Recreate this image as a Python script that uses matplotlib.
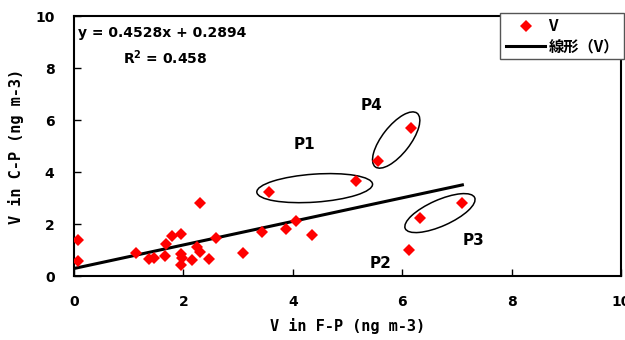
import matplotlib
matplotlib.use("Agg")
import matplotlib.pyplot as plt
from matplotlib.patches import Ellipse
from matplotlib.transforms import ScaledTranslation
import numpy as np

plt.rcParams['font.family'] = ['DejaVu Sans', 'Noto Sans CJK JP']
plt.rcParams['font.weight'] = 'bold'

# V concentrations: fine particles (x) vs coarse particles (y)
v_fp = [0.07, 0.07, 1.13, 1.38, 1.46, 1.66, 1.69, 1.79, 1.96, 1.95, 1.98, 1.96,
        2.15, 2.24, 2.30, 2.30, 2.46, 2.60, 3.09, 3.44, 3.57, 3.88, 4.05, 4.36,
        5.16, 5.55, 6.13, 6.16, 6.33, 7.10]
v_cp = [1.38, 0.58, 0.90, 0.65, 0.70, 0.76, 1.23, 1.55, 1.60, 0.86, 0.68, 0.44,
        0.62, 1.10, 0.91, 2.80, 0.65, 1.47, 0.87, 1.70, 3.22, 1.82, 2.12, 1.58,
        3.65, 4.42, 1.00, 5.70, 2.22, 2.81]

# linear trend from the spreadsheet
slope, intercept = 0.4528, 0.2894
fit_x = [0.0, 7.1]

# group labels and the ellipses drawn around them
group_names = ['P1', 'P2', 'P3', 'P4']
group_label_x = [4.22, 5.61, 7.31, 5.43]
group_label_y = [5.04, 0.50, 1.38, 6.54]
ell_cx = [4.40, 6.69, 5.89]
ell_cy = [3.38, 2.42, 5.23]
ell_w = [1.16, 0.76, 0.68]   # inches
ell_h = [0.28, 0.26, 0.28]
ell_ang = [4, 24, 52]

fig = plt.figure(figsize=(6.25, 3.4), dpi=100)
ax = fig.add_axes([0.1184, 0.1882, 0.8752, 0.7647])

ax.plot(v_fp, v_cp, 'D', color='red', markersize=6, markeredgewidth=0,
        label='V', zorder=3)
fx = np.array(fit_x)
ax.plot(fx, slope * fx + intercept, color='black', lw=2.2, label='線形（V）',
        zorder=2)

for cx, cy, w, h, a in zip(ell_cx, ell_cy, ell_w, ell_h, ell_ang):
    tr = fig.dpi_scale_trans + ScaledTranslation(cx, cy, ax.transData)
    ax.add_patch(Ellipse((0, 0), w, h, angle=a, transform=tr, fill=False,
                         edgecolor='black', lw=1.1))

for name, lx, ly in zip(group_names, group_label_x, group_label_y):
    ax.text(lx, ly, name, ha='center', va='center', fontsize=11,
            fontweight='bold')

ax.text(0.007, 0.935, f'y = {slope}x + {intercept}', transform=ax.transAxes,
        fontsize=10, fontweight='bold', va='center')
ax.text(0.09, 0.84, 'R$^\\mathbf{2}$ = 0.458', transform=ax.transAxes,
        fontsize=10, fontweight='bold', va='center')

ax.set_xlim(0, 10)
ax.set_ylim(0, 10)
ax.set_xticks([0, 2, 4, 6, 8, 10])
ax.set_yticks([0, 2, 4, 6, 8, 10])
ax.tick_params(direction='in', length=5, width=1, labelsize=10, pad=14)
for lab in ax.get_xticklabels() + ax.get_yticklabels():
    lab.set_fontweight('bold')
for sp in ax.spines.values():
    sp.set_linewidth(1.5)

lab_font = dict(family='DejaVu Sans Mono', fontsize=11, fontweight='bold')
ax.set_xlabel('V in F-P (ng m-3)', labelpad=6, **lab_font)
ax.set_ylabel('V in C-P (ng m-3)', labelpad=8, **lab_font)

leg = ax.legend(loc='upper right', bbox_to_anchor=(0.999, 0.962),
                bbox_transform=fig.transFigure, fancybox=False,
                edgecolor='#555555', framealpha=1,
                prop=dict(family=['Noto Sans CJK JP', 'DejaVu Sans'],
                          weight='bold', size=11),
                handlelength=2.6, handletextpad=0.2, borderpad=0.35,
                labelspacing=0.25, borderaxespad=0)
leg.get_frame().set_linewidth(1)
leg.set_zorder(5)

fig.savefig('out.png', dpi=100)
